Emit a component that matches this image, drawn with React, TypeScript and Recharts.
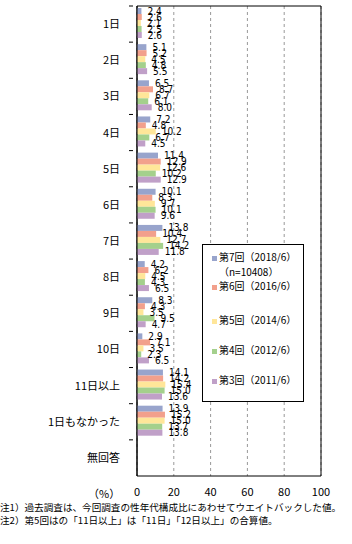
import { BarChart, Bar, XAxis, YAxis, CartesianGrid, LabelList, ReferenceArea } from "recharts";

const categories = ["1日", "2日", "3日", "4日", "5日", "6日", "7日", "8日", "9日", "10日", "11日以上", "1日もなかった", "無回答"];
const r7 = [2.4, 5.1, 6.5, 7.2, 11.4, 10.1, 13.8, 4.2, 8.3, 2.9, 14.1, 13.9, null];
const r6 = [2.6, 5.2, 8.7, 4.8, 12.9, 8.3, 10.4, 6.2, 4.3, 7.1, 14.2, 15.2, null];
const r5 = [2.1, 4.5, 6.7, 10.2, 12.6, 9.7, 12.7, 4.5, 3.5, 3.5, 15.4, 15.0, null];
const r4 = [2.5, 4.8, 6.1, 6.7, 10.2, 10.1, 14.2, 4.3, 9.5, 2.3, 15.0, 13.7, null];
const r3 = [2.6, 5.5, 8.0, 4.5, 12.9, 9.6, 11.8, 6.5, 4.7, 6.5, 13.6, 13.8, null];
const xTicks = [0, 20, 40, 60, 80, 100];

const series = [
  { key: "r7", name: "第7回（2018/6）", sub: "（n=10408）", color: "#98A4CC" },
  { key: "r6", name: "第6回（2016/6）", color: "#F2A08C" },
  { key: "r5", name: "第5回（2014/6）", color: "#FFE699" },
  { key: "r4", name: "第4回（2012/6）", color: "#A4D08C" },
  { key: "r3", name: "第3回（2011/6）", color: "#C0A0C8" },
];

const data = categories.map((name, i) => ({
  name,
  r7: r7[i],
  r6: r6[i],
  r5: r5[i],
  r4: r4[i],
  r3: r3[i],
}));

const font = "'Noto Sans CJK JP', sans-serif";
const band = 470 / categories.length;

const CatTick = (props: any) => {
  const { x, y, payload } = props;
  return (
    <g>
      <line x1={x} x2={x + 4} y1={y - band / 2} y2={y - band / 2} stroke="#000" />
      <text x={x - 9} y={y} dy={4} textAnchor="end" fontSize={11} fontFamily={font} fill="#000">
        {payload.value}
      </text>
    </g>
  );
};

const NumTick = (props: any) => {
  const { x, y, payload } = props;
  return (
    <text x={x} y={y} dy={12} textAnchor="middle" fontSize={11} fontFamily={font} fill="#000">
      {payload.value}
    </text>
  );
};

const fmt = (v: any) => (v == null ? "" : Number(v).toFixed(1));

export default function App() {
  return (
    <div style={{ position: "absolute", left: 0, top: 0, width: 352, height: 544, background: "#fff" }}>
      <BarChart
        width={352}
        height={544}
        data={data}
        layout="vertical"
        margin={{ top: 6, right: 31, bottom: 38, left: 0 }}
        barCategoryGap={2}
        barGap={0}
      >
        <CartesianGrid horizontal={false} stroke="#999" strokeDasharray="3 3" />
        <XAxis
          type="number"
          domain={[0, 100]}
          ticks={xTicks}
          axisLine={false}
          tickLine={false}
          tick={<NumTick />}
          height={30}
        />
        <YAxis
          type="category"
          dataKey="name"
          width={137}
          axisLine={{ stroke: "#000" }}
          tickLine={false}
          tick={<CatTick />}
          interval={0}
        />
        <ReferenceArea x1={0} x2={100} stroke="#000" fill="none" fillOpacity={0} ifOverflow="visible" />
        {series.map((s) => (
          <Bar key={s.key} dataKey={s.key} name={s.name} fill={s.color} isAnimationActive={false}>
            <LabelList
              dataKey={s.key}
              position="right"
              offset={6}
              formatter={fmt}
              fontSize={10}
              fill="#000"
              fontFamily="'Liberation Sans Narrow', 'DejaVu Sans Condensed', sans-serif"
            />
          </Bar>
        ))}
      </BarChart>
      <div
        style={{
          position: "absolute",
          left: 202,
          top: 244,
          width: 102,
          height: 158,
          border: "1px solid #000",
          background: "#fff",
          boxSizing: "border-box",
          fontFamily: font,
          fontSize: 10,
          color: "#000",
        }}
      >
        {series.map((s, i) => {
          const tops = [5, 34, 68, 98, 128];
          return (
            <div key={s.key} style={{ position: "absolute", left: 9, top: tops[i], whiteSpace: "nowrap", lineHeight: "13px" }}>
              <span style={{ display: "inline-block", width: 5, height: 5, background: s.color, marginRight: 2, verticalAlign: "middle" }} />
              {s.name}
              {s.sub && <div style={{ paddingLeft: 7, marginTop: 2 }}>{s.sub}</div>}
            </div>
          );
        })}
      </div>
      <div style={{ position: "absolute", left: 88, top: 485, fontFamily: font, fontSize: 11 }}>（%）</div>
      <div style={{ position: "absolute", left: 0, top: 501, fontFamily: font, fontSize: 9.6, lineHeight: "13px", whiteSpace: "nowrap" }}>
        <div>注1）過去調査は、今回調査の性年代構成比にあわせてウエイトバックした値。</div>
        <div>注2）第5回はの「11日以上」は「11日」「12日以上」の合算値。</div>
      </div>
    </div>
  );
}
